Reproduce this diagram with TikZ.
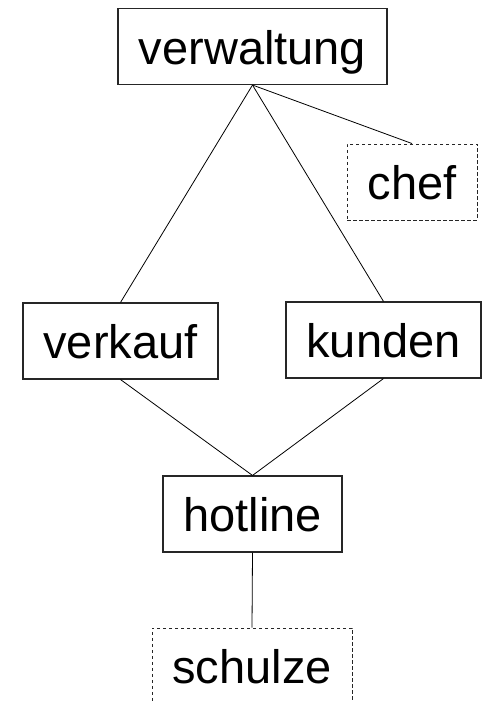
\documentclass[tikz,border=0pt]{standalone}
\usepackage{fontspec}
\setmainfont{Liberation Sans}
\begin{document}
\begin{tikzpicture}[x=1pt,y=1pt,
  unit/.style={draw=black!85, line width=1.1pt, rectangle, inner sep=0pt,
    font=\fontsize{47}{56}\selectfont, text height=36pt, text depth=0pt,
    minimum height=76pt},
  person/.style={unit, dashed, dash pattern=on 3.5pt off 2.5pt, line width=0.9pt},
  link/.style={line width=0.8pt, black}]
  \useasboundingbox (0,0) rectangle (483,703);
  \clip (0,0) rectangle (483,703);

  % organisational units
  \node[unit, minimum width=269pt] (verwaltung) at (252.5,656.5) {verwaltung};
  \node[person, minimum width=130pt] (chef) at (412,521) {chef};
  \node[unit, minimum width=195pt] (verkauf) at (120.5,362) {verkauf};
  \node[unit, minimum width=195pt] (kunden) at (383.5,363) {kunden};
  \node[unit, minimum width=179pt] (hotline) at (252.5,189) {hotline};
  \node[person, minimum width=200pt] (schulze) at (252,37) {schulze};

  % hierarchy links
  \draw[link] (verwaltung.south) -- (verkauf.north);
  \draw[link] (verwaltung.south) -- (kunden.north);
  \draw[link] (verwaltung.south) -- (chef.north);
  \draw[link] (verkauf.south) -- (hotline.north);
  \draw[link] (kunden.south) -- (hotline.north);
  \draw[link] (hotline.south) -- (schulze.north);
\end{tikzpicture}
\end{document}
